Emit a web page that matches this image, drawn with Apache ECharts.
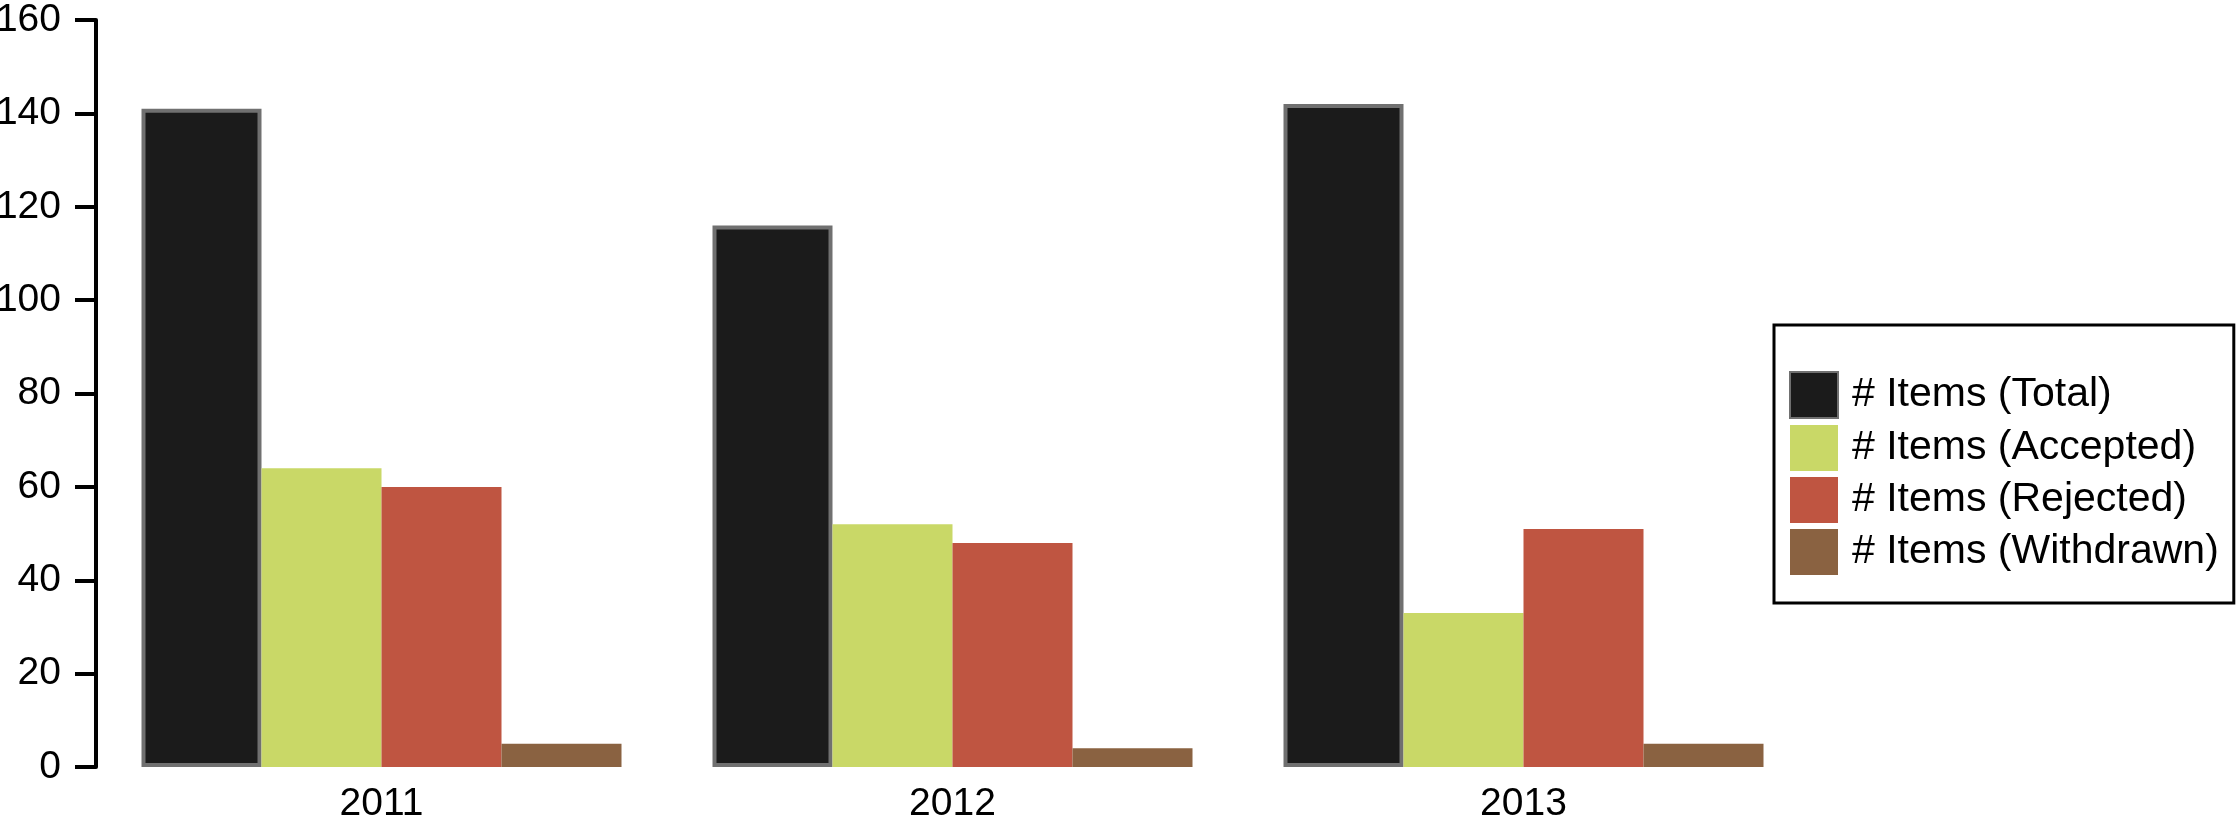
<!DOCTYPE html>
<html>
<head>
<meta charset="utf-8">
<script src="https://cdn.jsdelivr.net/npm/echarts@6/dist/echarts.min.js"></script>
<style>
  html, body { margin: 0; padding: 0; background: #ffffff; }
  #chart { width: 2240px; height: 817px; }
</style>
</head>
<body>
<div id="chart"></div>
<script>
const categories = ['2011', '2012', '2013'];
const seriesNames = ['# Items (Total)', '# Items (Accepted)', '# Items (Rejected)', '# Items (Withdrawn)'];
const totalValues = [141, 116, 142];
const acceptedValues = [64, 52, 33];
const rejectedValues = [60, 48, 51];
const withdrawnValues = [5, 4, 5];
const yTicks = { min: 0, max: 160, interval: 20 };

const FONT = '"Liberation Sans", Arial, Helvetica, sans-serif';

const chart = echarts.init(document.getElementById('chart'), null, { renderer: 'canvas' });

function barSeries(name, data, color, extra) {
  return Object.assign({
    name: name,
    type: 'bar',
    data: data,
    barWidth: 120,
    barGap: '0%',
    itemStyle: { color: color },
    emphasis: { disabled: true },
    animation: false
  }, extra || {});
}

chart.setOption({
  animation: false,
  backgroundColor: '#ffffff',
  grid: { left: 96, top: 20, width: 1713, bottom: 50, containLabel: false, outerBoundsMode: 'none' },
  legend: {
    orient: 'vertical',
    left: 1774,
    top: 325,
    padding: [46, 15, 28, 15],
    borderColor: '#000000',
    borderWidth: 3,
    itemWidth: 48,
    itemHeight: 46,
    itemGap: 6,
    icon: 'rect',
    selectedMode: false,
    textStyle: { fontFamily: FONT, fontSize: 41, color: '#000000', padding: [0, 0, 0, 9] },
    data: seriesNames
  },
  xAxis: {
    type: 'category',
    data: categories,
    axisLine: { show: false },
    axisTick: { show: false },
    axisLabel: { fontFamily: FONT, fontSize: 39, color: '#000000', margin: 18 },
    splitLine: { show: false }
  },
  yAxis: {
    type: 'value',
    min: yTicks.min,
    max: yTicks.max,
    interval: yTicks.interval,
    axisLine: { show: true, lineStyle: { color: '#000000', width: 4 } },
    axisTick: { show: true, length: 21, lineStyle: { color: '#000000', width: 4 } },
    axisLabel: { fontFamily: FONT, fontSize: 39, color: '#000000', margin: 35 },
    splitLine: { show: false }
  },
  series: [
    barSeries(seriesNames[0], totalValues, '#1b1b1b', { itemStyle: { color: '#1b1b1b', borderColor: '#707070', borderWidth: 4 } }),
    barSeries(seriesNames[1], acceptedValues, '#c9d867'),
    barSeries(seriesNames[2], rejectedValues, '#bf5541'),
    barSeries(seriesNames[3], withdrawnValues, '#8a6241')
  ]
});
</script>
</body>
</html>
